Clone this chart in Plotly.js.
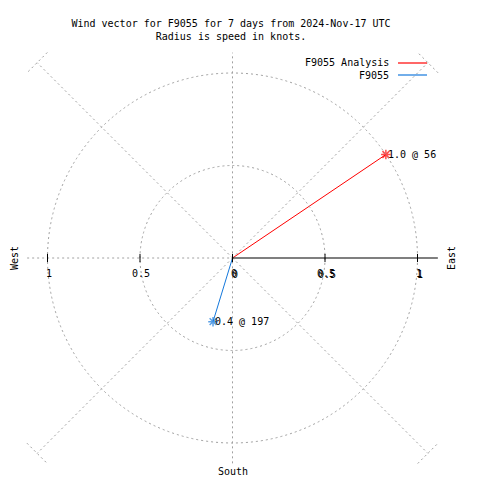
<!DOCTYPE html>
<html>
<head>
<meta charset="utf-8">
<script src="https://cdn.plot.ly/plotly-3.0.1.min.js"></script>
<style>html,body{margin:0;padding:0;background:#fff}#chart{width:480px;height:480px}</style>
</head>
<body>
<div id="chart"></div>
<script>
// ---- data ----
const seriesNames = ["F9055 Analysis", "F9055"];
const speeds = [1.0, 0.36];          // knots
const directions = [56, 197];        // degrees, compass
const seriesColors = ["#ff0000", "#1478dc"];
const tickVals = [-1, -0.5, 0, 0.5, 1];
const tickText = ["1", "0.5", "0", "0.5", "1"];
const ringRadii = [0.5, 1.0];
const spokeAngles = [45, 135, 225, 315];
const titleText = "Wind vector for F9055 for 7 days from 2024-Nov-17 UTC<br>Radius is speed in knots.";

// ---- styling ----
const FONT = "DejaVu Sans Mono, Liberation Mono, monospace";
const GRID = "#a0a0a0";
const DASH = "2px,3px";
const AXIS_END = 1.11;
const SPOKE_END = 1.056;
const TICK = 0.022;

const rad = d => d * Math.PI / 180;
const traces = [];
const annotations = [];
const shapes = [];

// rings
ringRadii.forEach(r => shapes.push({type: "circle", xref: "x", yref: "y", x0: -r, x1: r, y0: -r, y1: r,
  line: {color: GRID, width: 1, dash: DASH}}));
// axes lines
shapes.push({type: "line", xref: "x", yref: "y", x0: -AXIS_END, x1: 0, y0: 0, y1: 0, line: {color: GRID, width: 1, dash: DASH}});
shapes.push({type: "line", xref: "x", yref: "y", x0: 0, x1: 0, y0: -AXIS_END, y1: AXIS_END, line: {color: GRID, width: 1, dash: DASH}});
// diagonal spokes with end crosses
spokeAngles.forEach(a => {
  const sx = Math.sign(Math.sin(rad(a))) * SPOKE_END, sy = Math.sign(Math.cos(rad(a))) * SPOKE_END;
  shapes.push({type: "line", xref: "x", yref: "y", x0: 0, y0: 0, x1: sx, y1: sy, line: {color: GRID, width: 1, dash: DASH}});
  const px = -Math.sign(sy) * 0.055, py = Math.sign(sx) * 0.055;
  shapes.push({type: "line", xref: "x", yref: "y", x0: sx - px, y0: sy - py, x1: sx + px, y1: sy + py, line: {color: GRID, width: 1, dash: DASH}});
});
// solid black east axis
shapes.push({type: "line", xref: "x", yref: "y", x0: 0, x1: AXIS_END, y0: 0, y1: 0, line: {color: "#000", width: 1.2}});
// ticks and labels
tickVals.forEach((v, i) => {
  shapes.push({type: "line", xref: "x", yref: "y", x0: v, x1: v, y0: -TICK, y1: TICK, line: {color: "#000", width: 1}});
  annotations.push({x: v, y: 0, xref: "x", yref: "y", text: tickText[i], showarrow: false, xshift: 1, yshift: -15,
    xanchor: "center", yanchor: "middle", font: {family: FONT, size: 10, color: "#000"}});
  if (v >= 0) {
    annotations.push({x: v, y: 0, xref: "x", yref: "y", text: tickText[i], showarrow: false, xshift: 2, yshift: -16,
      xanchor: "center", yanchor: "middle", font: {family: FONT, size: 10, color: "#000"}});
  }
});

// series
speeds.forEach((s, i) => {
  const d = directions[i];
  const ex = s * Math.sin(rad(d)), ey = s * Math.cos(rad(d));
  traces.push({type: "scatter", mode: "lines+markers", x: [0, ex], y: [0, ey], name: seriesNames[i],
    line: {color: seriesColors[i], width: 1},
    marker: {symbol: "asterisk-open", size: [0, 8], line: {color: seriesColors[i], width: 1.5}, color: seriesColors[i]},
    hoverinfo: "skip", showlegend: false});
  annotations.push({x: ex, y: ey, xref: "x", yref: "y", text: s.toFixed(1) + " @ " + d, showarrow: false,
    xanchor: "left", yanchor: "middle", xshift: 0, font: {family: FONT, size: 10, color: "#000"}});
  // legend entry
  const ly = 1 - (63 + 12 * i) / 480;
  annotations.push({x: 391 / 480, y: ly, xref: "paper", yref: "paper", xanchor: "right", yanchor: "middle",
    text: seriesNames[i], showarrow: false, font: {family: FONT, size: 10, color: "#000"}});
  shapes.push({type: "line", xref: "paper", yref: "paper", x0: 398 / 480, x1: 427 / 480, y0: ly, y1: ly,
    line: {color: seriesColors[i], width: 1.2}});
});

// compass labels
annotations.push({x: 14 / 480, y: 1 - 258 / 480, xref: "paper", yref: "paper", text: "West", textangle: -90,
  xanchor: "center", yanchor: "middle", showarrow: false, font: {family: FONT, size: 10, color: "#000"}});
annotations.push({x: 451 / 480, y: 1 - 258 / 480, xref: "paper", yref: "paper", text: "East", textangle: -90,
  xanchor: "center", yanchor: "middle", showarrow: false, font: {family: FONT, size: 10, color: "#000"}});
annotations.push({x: 233 / 480, y: 1 - 471 / 480, xref: "paper", yref: "paper", text: "South",
  xanchor: "center", yanchor: "middle", showarrow: false, font: {family: FONT, size: 10, color: "#000"}});

const layout = {
  width: 480, height: 480,
  margin: {l: 0, r: 0, t: 0, b: 0},
  paper_bgcolor: "#fff", plot_bgcolor: "#fff",
  title: {text: titleText, x: 231 / 480, xanchor: "center", xref: "container", y: 1 - 26.5 / 480, yanchor: "middle", yref: "container",
    font: {family: FONT, size: 10, color: "#000"}},
  xaxis: {range: [-232.5 / 185, (480 - 232.5) / 185], visible: false, fixedrange: true},
  yaxis: {range: [-(480 - 258) / 185, 258 / 185], visible: false, fixedrange: true},
  showlegend: false,
  shapes: shapes,
  annotations: annotations
};
Plotly.newPlot("chart", traces, layout, {displayModeBar: false, staticPlot: true});
</script>
</body>
</html>
